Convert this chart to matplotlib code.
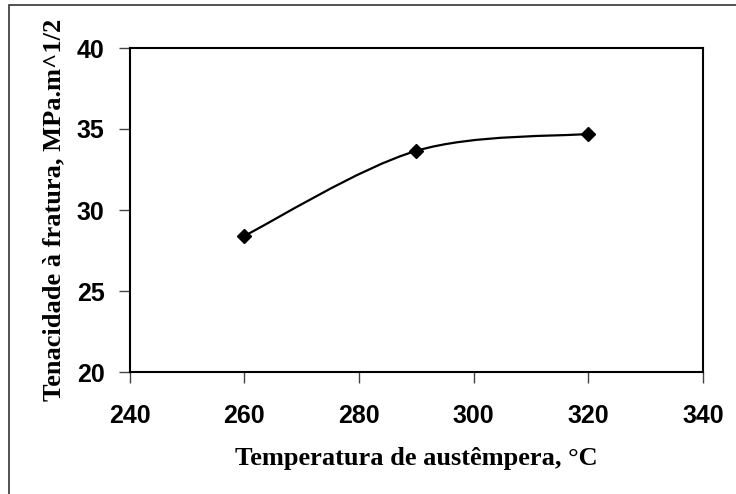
import matplotlib
matplotlib.use('Agg')
import matplotlib.pyplot as plt
from matplotlib.path import Path
from matplotlib.patches import PathPatch, Rectangle

temperatures = [260, 290, 320]
toughness = [28.4, 33.65, 34.7]
x_ticks = [240, 260, 280, 300, 320, 340]
y_ticks = [20, 25, 30, 35, 40]
x_label = "Temperatura de austêmpera, °C"
y_label = "Tenacidade à fratura, MPa.m^1/2"


def smooth_path(xs, ys):
    # Excel-like smoothed line: cubic bezier through the points
    pts = list(zip(xs, ys))
    n = len(pts)
    verts = [pts[0]]
    codes = [Path.MOVETO]
    for i in range(n - 1):
        p0 = pts[max(i - 1, 0)]
        p1 = pts[i]
        p2 = pts[i + 1]
        p3 = pts[min(i + 2, n - 1)]
        c1 = (p1[0] + (p2[0] - p0[0]) / 6.0, p1[1] + (p2[1] - p0[1]) / 6.0)
        c2 = (p2[0] - (p3[0] - p1[0]) / 6.0, p2[1] - (p3[1] - p1[1]) / 6.0)
        verts += [c1, c2, p2]
        codes += [Path.CURVE4] * 3
    return Path(verts, codes)


fig = plt.figure(figsize=(7.36, 4.94), dpi=100)
ax = fig.add_axes([129.5 / 736, 1 - 372 / 494, (703 - 129.5) / 736, (372 - 48) / 494])

# outer chart border (only top and left visible in the crop)
fig.patches.append(Rectangle((9 / 736, -0.05), 1.2, 1 - 5 / 494 + 0.05,
                             transform=fig.transFigure, fill=False,
                             edgecolor='#333333', linewidth=1.2))

ax.add_patch(PathPatch(smooth_path(temperatures, toughness), fill=False,
                       edgecolor='black', linewidth=1.6, zorder=3))
ax.plot(temperatures, toughness, linestyle='none', marker='D', markersize=7.5,
        color='black', zorder=4, clip_on=False)

ax.set_xlim(240, 340)
ax.set_ylim(20, 40)
ax.set_xticks(x_ticks)
ax.set_yticks(y_ticks)
for s in ax.spines.values():
    s.set_linewidth(1.5)
ax.tick_params(direction='out', length=8, width=1, color='#444444')
ax.tick_params(axis='x', pad=15)
ax.tick_params(axis='y', pad=10)
for lab in ax.get_xticklabels() + ax.get_yticklabels():
    lab.set_fontfamily('Liberation Sans')
    lab.set_fontweight('bold')
    lab.set_fontsize(18)

ax.set_xlabel(x_label, fontfamily='Liberation Serif', fontweight='bold', fontsize=19)
ax.set_ylabel(y_label, fontfamily='Liberation Serif', fontweight='bold', fontsize=19)
ax.xaxis.set_label_coords(0.5, -0.233)
ax.yaxis.set_label_coords(-0.112, 0.5)

fig.savefig('out.png', dpi=100)
